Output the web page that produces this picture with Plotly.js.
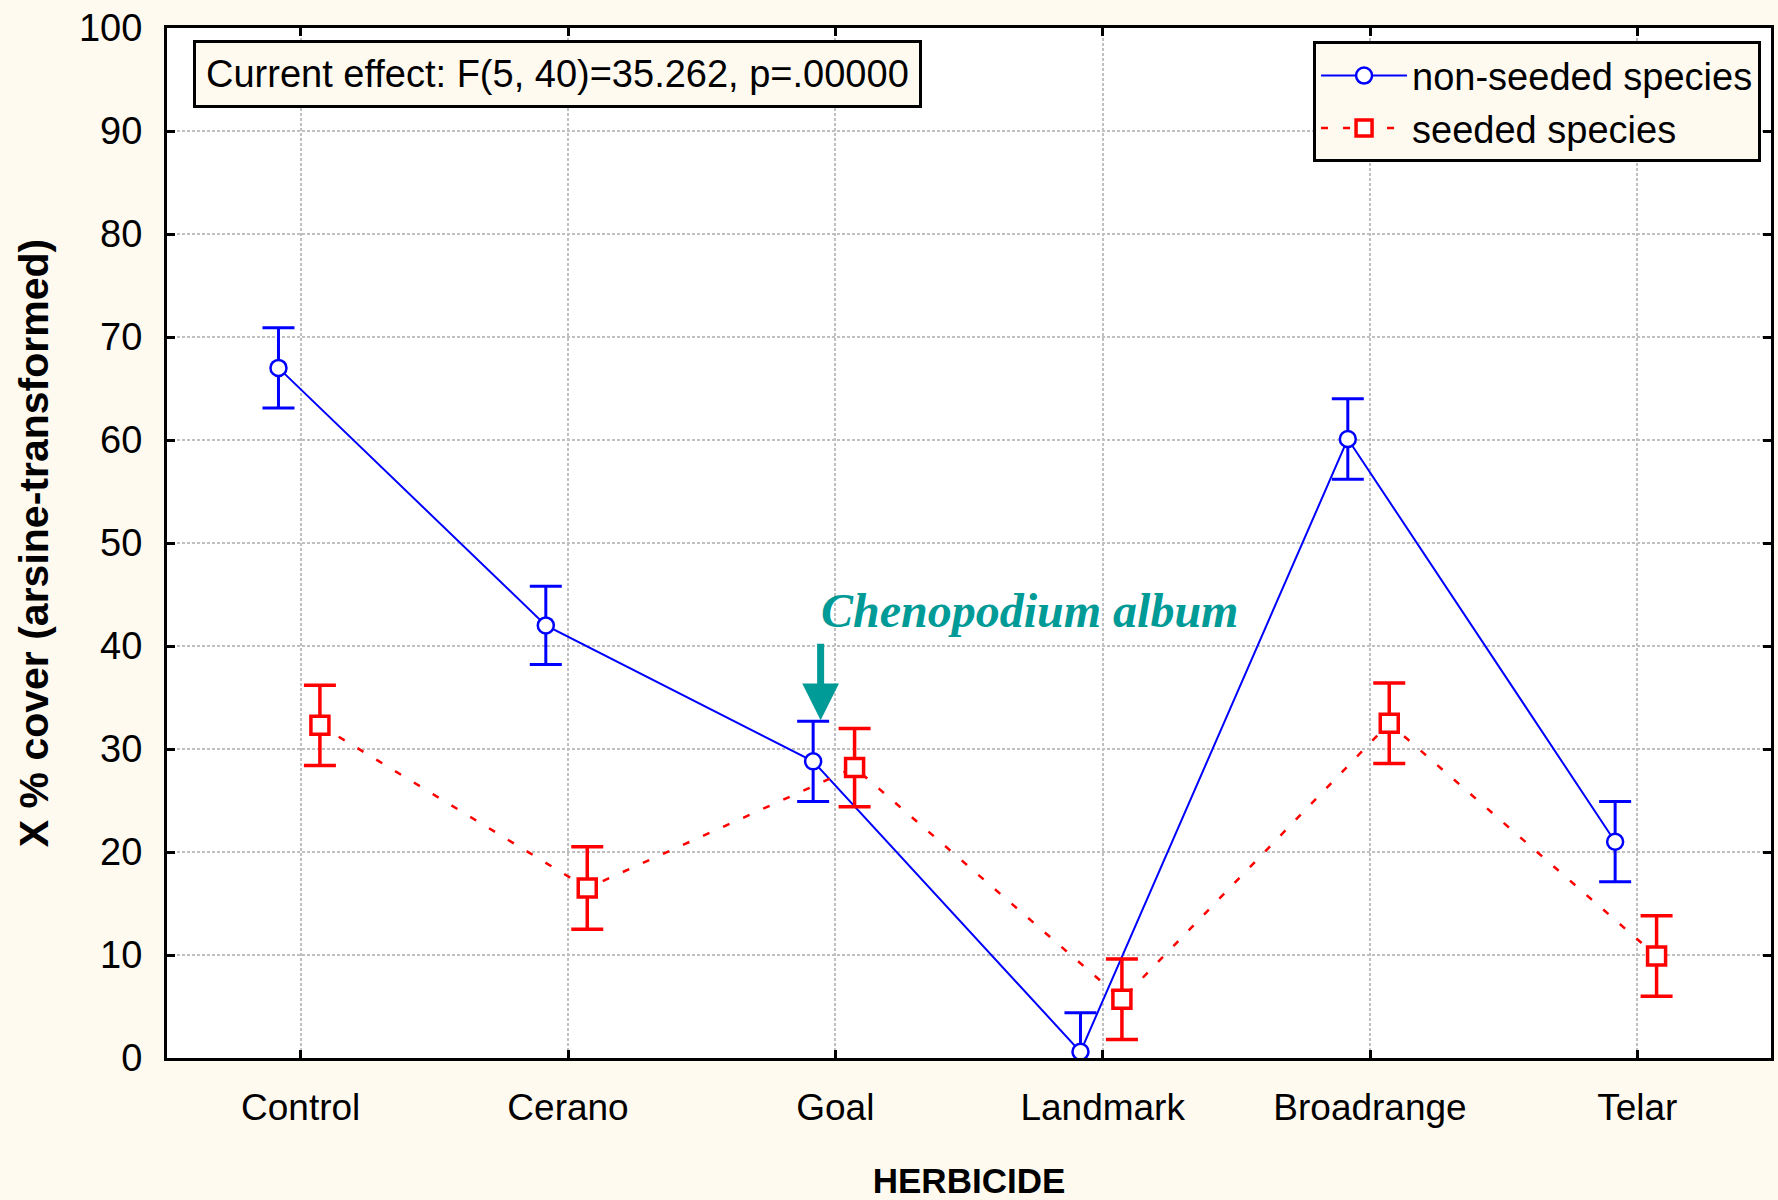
<!DOCTYPE html>
<html>
<head>
<meta charset="utf-8">
<script src="https://cdn.plot.ly/plotly-3.0.1.min.js"></script>
<style>
html,body{margin:0;padding:0;background:#FFFAF0;}
#chart{width:1778px;height:1200px;}
</style>
</head>
<body>
<div id="chart"></div>
<script>
// ---- data ----
var herbicides = ["Control", "Cerano", "Goal", "Landmark", "Broadrange", "Telar"];
var nonSeededMean = [67.0, 42.0, 28.8, 0.6, 60.1, 21.0];
var nonSeededErr  = [3.9, 3.8, 3.9, 3.8, 3.9, 3.9];
var seededMean    = [32.3, 16.5, 28.2, 5.7, 32.5, 9.9];
var seededErr     = [3.9, 4.0, 3.8, 3.9, 3.9, 3.9];
var yTicks = [0, 10, 20, 30, 40, 50, 60, 70, 80, 90, 100];

// ---- styling / layout ----
var idx = herbicides.map(function(_, i){ return i; });
var offNon = -0.083, offSeed = 0.072;
var FONT = '"Liberation Sans", Arial, sans-serif';
var CREAM = '#FFFAF0';
var TEAL = '#009A97';

var traceNon = {
  type: 'scatter', mode: 'lines+markers', name: 'non-seeded species',
  x: idx.map(function(i){ return i + offNon; }), y: nonSeededMean,
  line: {color: '#0000FF', width: 2},
  marker: {symbol: 'circle', size: 16, color: '#FFFFFF', line: {color: '#0000FF', width: 2.5}},
  error_y: {type: 'data', array: nonSeededErr, visible: true, color: '#0000FF', thickness: 3, width: 16},
  cliponaxis: true
};
var traceSeed = {
  type: 'scatter', mode: 'lines+markers', name: 'seeded species',
  x: idx.map(function(i){ return i + offSeed; }), y: seededMean,
  line: {color: '#FF0000', width: 2.5, dash: '7px,15px'},
  marker: {symbol: 'square', size: 18, color: '#FFFFFF', line: {color: '#FF0000', width: 3.5}},
  error_y: {type: 'data', array: seededErr, visible: true, color: '#FF0000', thickness: 3.5, width: 16},
  cliponaxis: true
};

var layout = {
  width: 1778, height: 1200,
  paper_bgcolor: CREAM, plot_bgcolor: '#FFFFFF',
  margin: {l: 167, r: 7, t: 28, b: 142, pad: 0},
  font: {family: FONT, size: 37, color: '#000000'},
  showlegend: true,
  legend: {
    x: 0.9938, xanchor: 'right', y: 0.987, yanchor: 'top',
    bgcolor: CREAM, bordercolor: '#000000', borderwidth: 3,
    font: {family: FONT, size: 38, color: '#000000'},
    itemwidth: 86
  },
  xaxis: {
    range: [-0.5, 5.5],
    tickmode: 'array', tickvals: idx, ticktext: herbicides,
    ticks: 'inside', ticklen: 8, tickwidth: 3, tickcolor: '#000000',
    showline: true, linewidth: 3, linecolor: '#000000', mirror: 'ticks',
    showgrid: true, gridcolor: '#C0C0C0', gridwidth: 2, griddash: '3px,2px',
    zeroline: false,
    tickfont: {family: FONT, size: 37, color: '#000000'},
    ticklabelstandoff: 15,
    title: {text: '<b>HERBICIDE</b>', font: {family: FONT, size: 35, color: '#000000'}, standoff: 44}
  },
  yaxis: {
    range: [0, 100],
    tickmode: 'array', tickvals: yTicks,
    ticks: 'inside', ticklen: 8, tickwidth: 3, tickcolor: '#000000',
    showline: true, linewidth: 3, linecolor: '#000000', mirror: 'ticks',
    showgrid: true, gridcolor: '#C0C0C0', gridwidth: 2, griddash: '3px,2px',
    zeroline: false,
    tickfont: {family: FONT, size: 38, color: '#000000'},
    ticklabelstandoff: 14,
    title: {text: '<b>X % cover (arsine-transformed)</b>', font: {family: FONT, size: 41, color: '#000000'}, standoff: 18}
  },
  annotations: [
    {
      xref: 'paper', yref: 'paper', x: 0.0162, y: 0.988, xanchor: 'left', yanchor: 'top',
      text: 'Current effect: F(5, 40)=35.262, p=.00000', showarrow: false,
      font: {family: FONT, size: 38, color: '#000000'},
      bgcolor: CREAM, bordercolor: '#000000', borderwidth: 3, borderpad: 10
    },
    {
      xref: 'x', yref: 'y', x: 2.725, y: 43.4, xanchor: 'center', yanchor: 'middle',
      text: '<b><i>Chenopodium album</i></b>', showarrow: false,
      font: {family: '"Liberation Serif", "Times New Roman", serif', size: 48, color: TEAL}
    },
    {
      xref: 'x', yref: 'y', x: 1.945, y: 32.8,
      text: '', showarrow: true, ax: 0, ay: -78, axref: 'pixel', ayref: 'pixel',
      arrowhead: 2, arrowsize: 1.05, arrowwidth: 7, arrowcolor: TEAL, standoff: 0
    }
  ]
};

Plotly.newPlot('chart', [traceNon, traceSeed], layout, {displayModeBar: false, staticPlot: true});
</script>
</body>
</html>
